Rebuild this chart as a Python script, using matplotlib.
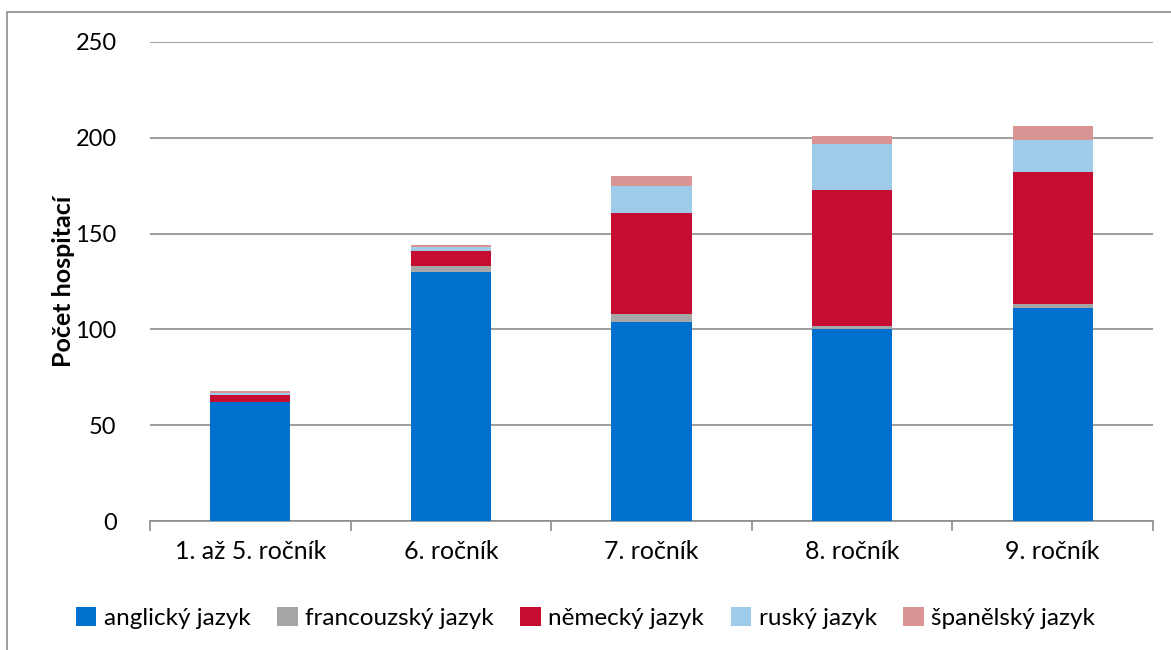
import matplotlib.pyplot as plt
import numpy as np

plt.rcParams['font.family'] = ['Lato', 'DejaVu Sans']

categories = ['1. až 5. ročník', '6. ročník', '7. ročník', '8. ročník', '9. ročník']
series_names = ['anglický jazyk', 'francouzský jazyk', 'německý jazyk', 'ruský jazyk', 'španělský jazyk']
anglicky = [62, 130, 104, 100, 111]
francouzsky = [0, 3, 4, 2, 2]
nemecky = [4, 8, 53, 71, 69]
rusky = [1, 2, 14, 24, 17]
spanelsky = [1, 1, 5, 4, 7]
colors = ['#0070cf', '#a6a6a6', '#c40d30', '#9dcbe9', '#d99594']

fig = plt.figure(figsize=(11.71, 6.5), dpi=100)
ax = fig.add_axes([150 / 1171, 1 - 521 / 650, 1003 / 1171, (521 - 42) / 650])

# gray frame around the chart area
fig.patches.append(plt.Rectangle((7 / 1171, -0.05), 1.1, 1 - 12 / 650 + 0.05,
                                 transform=fig.transFigure, fill=False,
                                 edgecolor='#8c8c8c', linewidth=1.2))

x = np.arange(len(categories))
bottom = np.zeros(len(categories))
handles = []
for name, vals, col in zip(series_names, [anglicky, francouzsky, nemecky, rusky, spanelsky], colors):
    b = ax.bar(x, vals, width=0.4, bottom=bottom, color=col, label=name, zorder=3)
    handles.append(b)
    bottom += np.array(vals)

ax.set_xlim(-0.5, len(categories) - 0.5)
ax.set_ylim(0, 250)
ax.set_yticks(range(0, 251, 50))
ax.yaxis.grid(True, color='#8c8c8c', linewidth=1.2, zorder=0)
ax.tick_params(axis='y', length=0, pad=24, labelsize=17)
ax.set_xticks(x)
ax.set_xticklabels(categories, fontsize=18)
ax.tick_params(axis='x', length=0, pad=14)
# category boundary tick marks
ax.set_xticks(np.arange(-0.5, len(categories)), minor=True)
ax.tick_params(axis='x', which='minor', length=7, color='#8c8c8c', width=1.2, direction='out')

for s in ['top', 'right', 'left']:
    ax.spines[s].set_visible(False)
ax.spines['bottom'].set_color('#8c8c8c')
ax.spines['bottom'].set_linewidth(1.2)

ax.set_ylabel('Počet hospitací', fontsize=18, fontweight='bold', labelpad=0)

fig.legend(handles, series_names, loc='center', bbox_to_anchor=(0.5, 1 - 618 / 650),
           ncol=5, frameon=False, fontsize=17.5, handlelength=0.85, handleheight=0.85,
           handletextpad=0.3, columnspacing=1.1)

fig.savefig('out.png', dpi=100)
